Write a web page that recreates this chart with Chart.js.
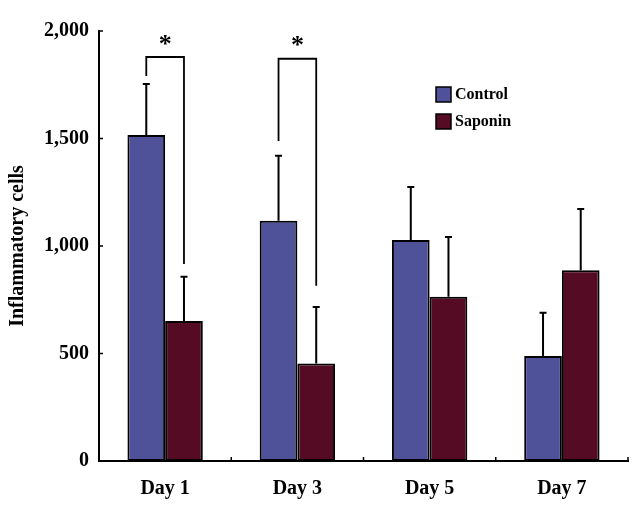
<!doctype html>
<html lang="en">

<head>
  <meta charset="UTF-8">
  <title>Inflammatory cells</title>
  <style>
    html,
    body {
      margin: 0;
      padding: 0;
      background-color: #fff;
    }
  </style>
</head>

<body>
  <canvas id="datavis" width="644" height="508"></canvas>

  <script src="https://cdn.jsdelivr.net/npm/chart.js@4/dist/chart.umd.min.js"></script>

  <script>
    // values
    const days = ['Day 1', 'Day 3', 'Day 5', 'Day 7'];
    const control = [1516, 1118, 1028, 488];
    const controlErr = [237, 302, 246, 202];
    const saponin = [651, 454, 764, 887];
    const saponinErr = [206, 262, 278, 285];
    const yTicks = [0, 500, 1000, 1500, 2000];

    // significance brackets: category index, left leg end, top, right leg end
    const bracketDays = [0, 1];
    const bracketLeft = [1791, 1488];
    const bracketTop = [1879, 1871];
    const bracketRight = [916, 815];

    const serif = "'Liberation Serif', 'Times New Roman', serif";

    const errorBars = {
      id: 'errorBars',
      afterDatasetsDraw(chart) {
        const ctx = chart.ctx;
        const y = chart.scales.y;
        ctx.save();
        ctx.strokeStyle = '#000';
        ctx.lineWidth = 2;
        chart.data.datasets.forEach(function (ds, di) {
          chart.getDatasetMeta(di).data.forEach(function (bar, i) {
            const top = y.getPixelForValue(ds.data[i] + ds.err[i]);
            ctx.beginPath();
            ctx.moveTo(bar.x, bar.y);
            ctx.lineTo(bar.x, top);
            ctx.moveTo(bar.x - 3.5, top);
            ctx.lineTo(bar.x + 3.5, top);
            ctx.stroke();
          });
        });
        ctx.restore();
      }
    };

    const extras = {
      id: 'extras',
      afterDraw(chart) {
        const ctx = chart.ctx;
        const x = chart.scales.x;
        const y = chart.scales.y;
        const area = chart.chartArea;
        ctx.save();
        ctx.strokeStyle = '#000';
        ctx.lineWidth = 1.5;

        // inward tick marks
        ctx.beginPath();
        yTicks.forEach(function (v) {
          const py = y.getPixelForValue(v);
          ctx.moveTo(area.left, py);
          ctx.lineTo(area.left + 4, py);
        });
        const half = (x.getPixelForTick(1) - x.getPixelForTick(0)) / 2;
        days.forEach(function (d, i) {
          const px = x.getPixelForTick(i) + half;
          ctx.moveTo(px, area.bottom);
          ctx.lineTo(px, area.bottom - 4);
        });
        ctx.stroke();

        // brackets and stars
        const m0 = chart.getDatasetMeta(0).data;
        const m1 = chart.getDatasetMeta(1).data;
        ctx.lineWidth = 1.8;
        ctx.fillStyle = '#000';
        ctx.font = 'bold 26px ' + serif;
        ctx.textAlign = 'center';
        ctx.textBaseline = 'middle';
        bracketDays.forEach(function (c, i) {
          const xl = m0[c].x;
          const xr = m1[c].x;
          const yt = y.getPixelForValue(bracketTop[i]);
          ctx.beginPath();
          ctx.moveTo(xl, y.getPixelForValue(bracketLeft[i]));
          ctx.lineTo(xl, yt);
          ctx.lineTo(xr, yt);
          ctx.lineTo(xr, y.getPixelForValue(bracketRight[i]));
          ctx.stroke();
          ctx.fillText('*', (xl + xr) / 2, yt - 12);
        });

        // legend
        ctx.font = 'bold 16px ' + serif;
        ctx.textAlign = 'left';
        ctx.lineWidth = 1.5;
        chart.data.datasets.forEach(function (ds, i) {
          const top = 87 + i * 27;
          ctx.fillStyle = ds.backgroundColor;
          ctx.fillRect(436, top, 15, 15);
          ctx.strokeRect(436, top, 15, 15);
          ctx.fillStyle = '#000';
          ctx.fillText(ds.label, 455, top + 8);
        });
        ctx.restore();
      }
    };

    new Chart('datavis', {
      type: 'bar',
      data: {
        labels: days,
        datasets: [
          {
            label: 'Control',
            data: control,
            err: controlErr,
            backgroundColor: '#4f5299',
            borderColor: '#000',
            borderWidth: 2,
            borderSkipped: false
          },
          {
            label: 'Saponin',
            data: saponin,
            err: saponinErr,
            backgroundColor: '#550b24',
            borderColor: '#000',
            borderWidth: 2,
            borderSkipped: false
          }
        ]
      },
      options: {
        responsive: false,
        animation: false,
        devicePixelRatio: 1,
        categoryPercentage: 0.57,
        barPercentage: 1,
        layout: {
          padding: { top: 31, right: 16, left: 0, bottom: 0 }
        },
        plugins: {
          legend: { display: false },
          tooltip: { enabled: false }
        },
        scales: {
          x: {
            grid: { display: false, drawTicks: false },
            border: { display: true, color: '#000', width: 2 },
            ticks: {
              color: '#000',
              padding: 16,
              font: { family: serif, size: 20, weight: 'bold' }
            },
            afterFit(scale) { scale.height = 47; }
          },
          y: {
            min: 0,
            max: 2000,
            grid: { display: false, drawTicks: false },
            border: { display: true, color: '#000', width: 2 },
            afterBuildTicks(scale) { scale.ticks = yTicks.map(v => ({ value: v })); },
            ticks: {
              color: '#000',
              padding: 10,
              font: { family: serif, size: 20, weight: 'bold' },
              callback: v => v.toLocaleString('en-US')
            },
            title: {
              display: true,
              text: 'Inflammatory cells',
              color: '#000',
              padding: { top: 6, bottom: 0 },
              font: { family: serif, size: 20, weight: 'bold' }
            },
            afterFit(scale) { scale.width = 99; }
          }
        }
      },
      plugins: [errorBars, extras]
    });
  </script>
</body>

</html>
